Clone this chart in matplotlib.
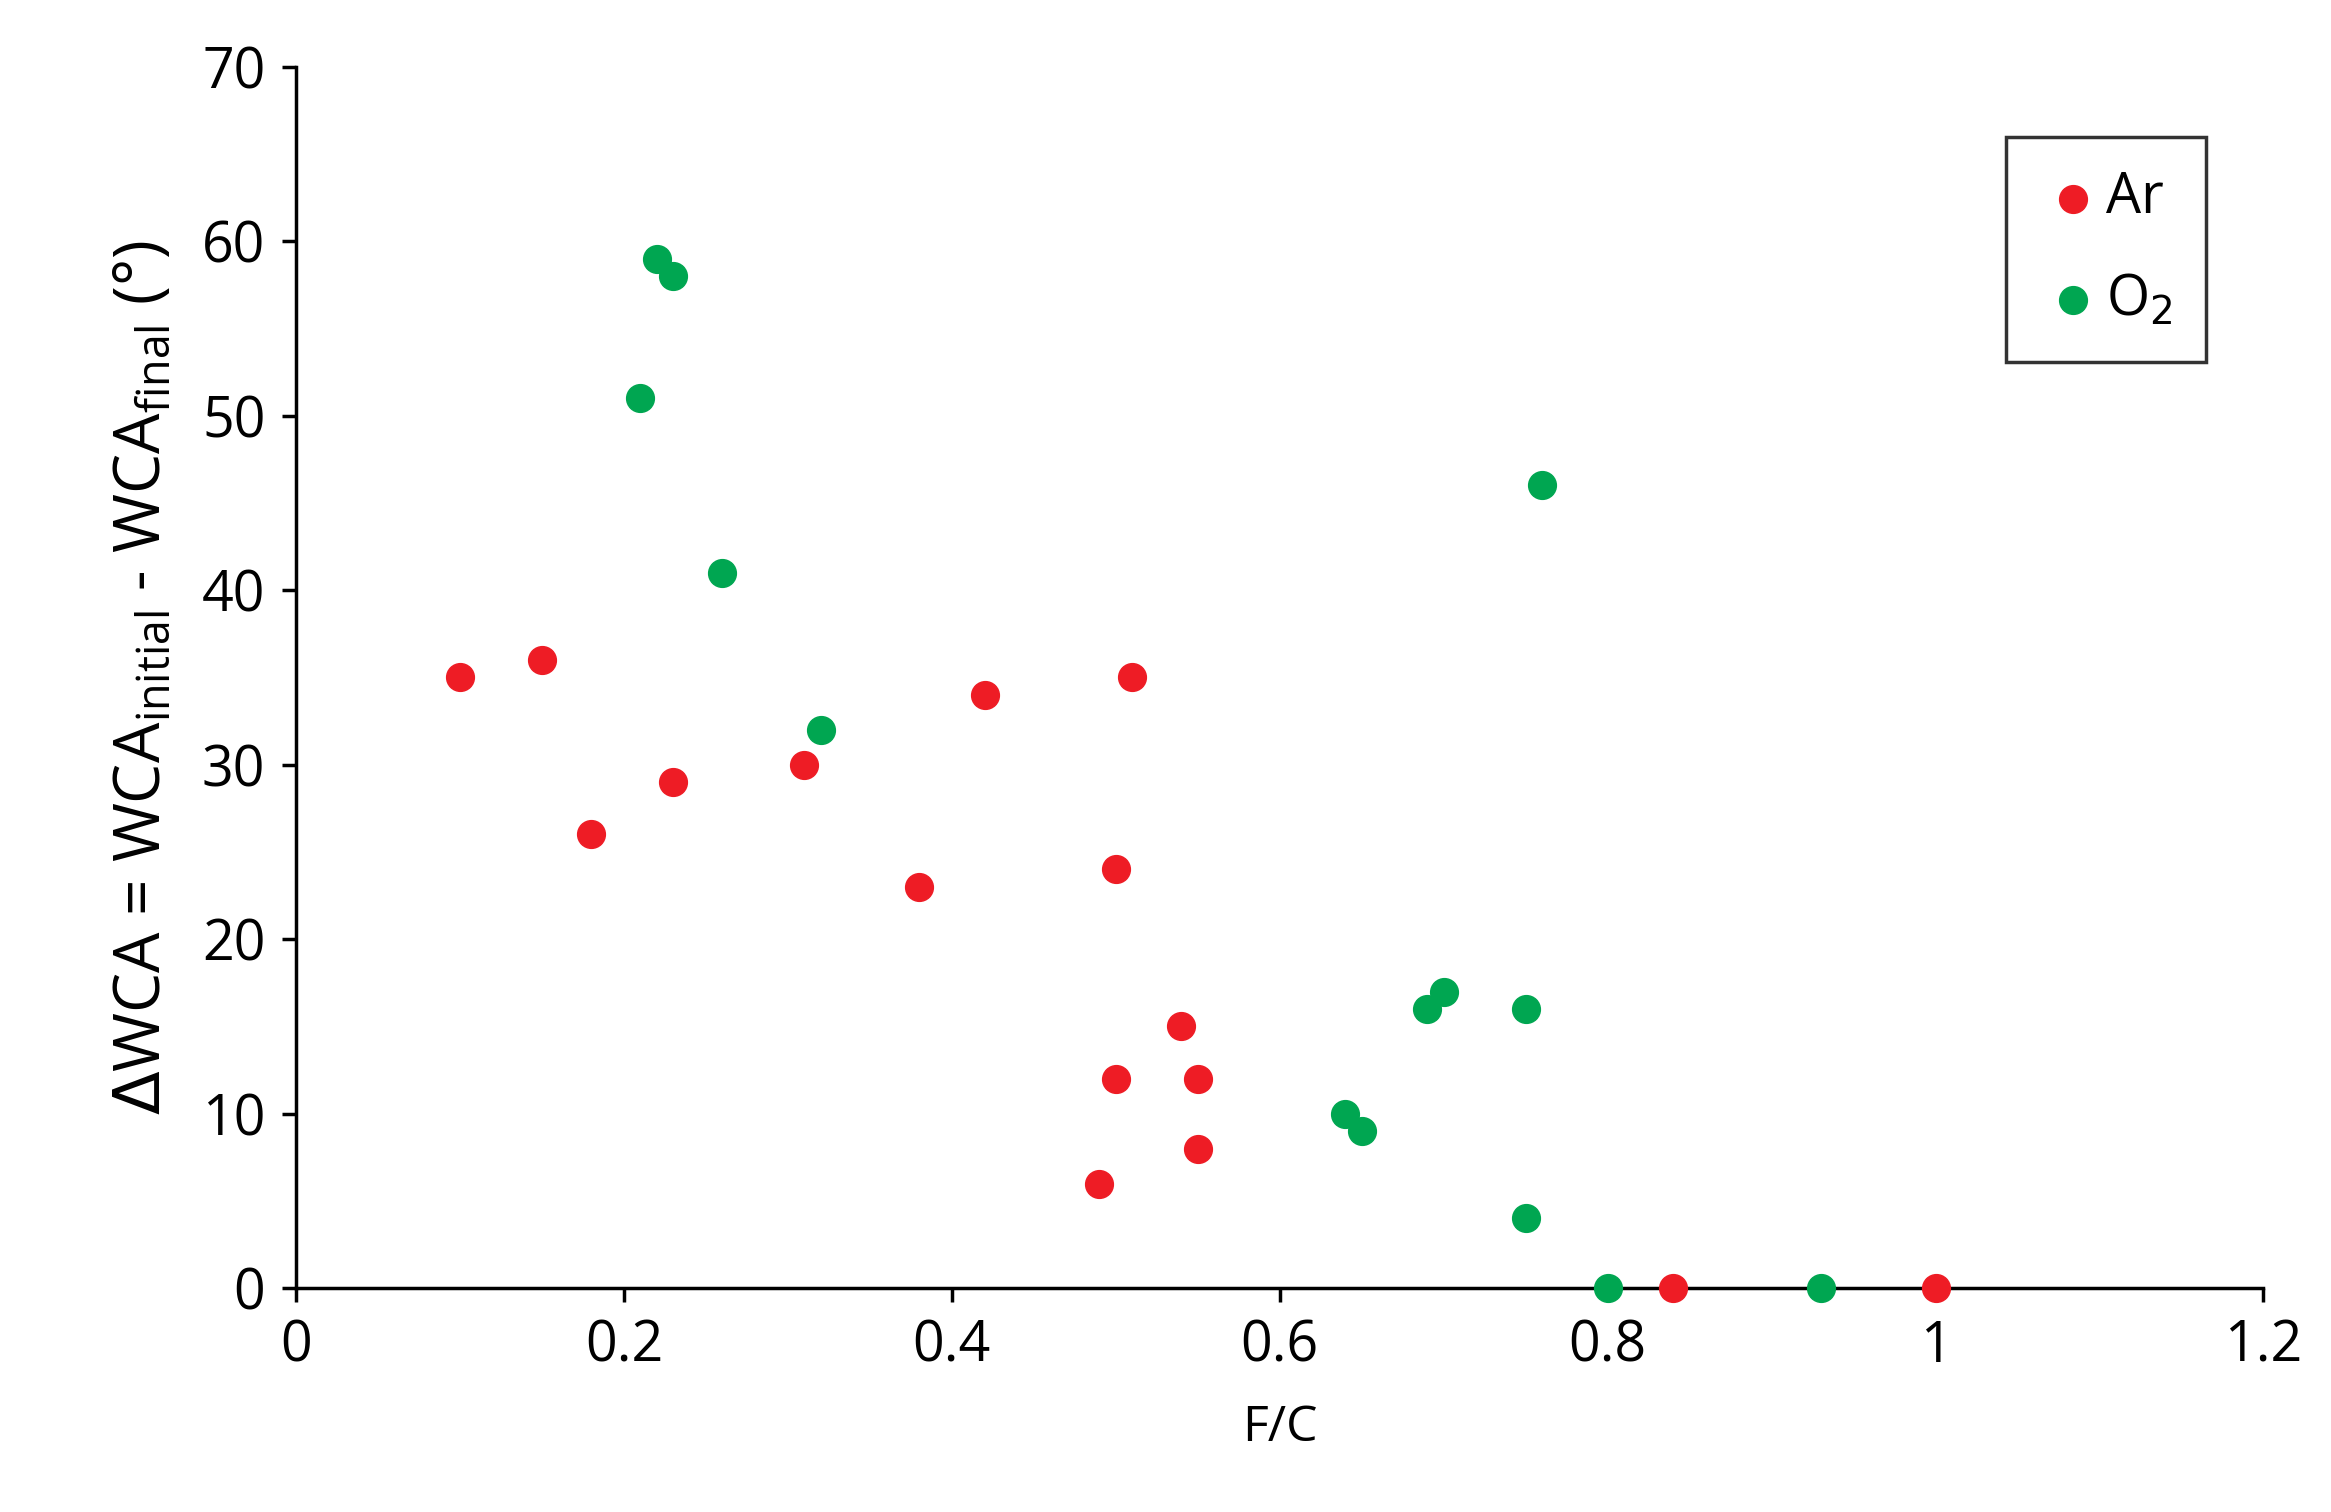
import matplotlib
matplotlib.use('Agg')
import matplotlib.pyplot as plt

plt.rcParams['font.family'] = ['Open Sans', 'DejaVu Sans']

ar_fc = [0.10, 0.15, 0.18, 0.23, 0.31, 0.38, 0.42, 0.50, 0.51, 0.54, 0.50, 0.55, 0.55, 0.49, 0.84, 1.00]
ar_dwca = [35, 36, 26, 29, 30, 23, 34, 24, 35, 15, 12, 12, 8, 6, 0, 0]
o2_fc = [0.21, 0.22, 0.23, 0.26, 0.32, 0.76, 0.69, 0.70, 0.75, 0.64, 0.65, 0.75, 0.80, 0.93]
o2_dwca = [51, 59, 58, 41, 32, 46, 16, 17, 16, 10, 9, 4, 0, 0]

fig = plt.figure(figsize=(23.31, 15.12), dpi=100)
ax = fig.add_axes([0.127, 0.148, 0.844, 0.808])

ax.scatter(ar_fc, ar_dwca, s=400, color='#EE1C25', label='Ar', zorder=3, clip_on=False)
ax.scatter(o2_fc, o2_dwca, s=400, color='#00A651', label='O$_2$', zorder=3, clip_on=False)

ax.set_xlim(0, 1.2)
ax.set_ylim(0, 70)
ax.set_xticks([0, 0.2, 0.4, 0.6, 0.8, 1.0, 1.2])
ax.set_xticklabels(['0', '0.2', '0.4', '0.6', '0.8', '1', '1.2'])
ax.set_yticks(range(0, 71, 10))
for s in ['top', 'right']:
    ax.spines[s].set_visible(False)
for s in ['left', 'bottom']:
    ax.spines[s].set_linewidth(2.5)
ax.tick_params(axis='both', labelsize=40, width=2.5, length=10, direction='out', pad=12)

ax.set_xlabel('F/C', fontsize=36, labelpad=20)
ax.set_ylabel(r'$\Delta$WCA = WCA$_{\mathregular{initial}}$ - WCA$_{\mathregular{final}}$ (°)', fontsize=46, labelpad=20)

leg = ax.legend(loc='upper right', bbox_to_anchor=(0.985, 0.965), fontsize=40, frameon=True,
                fancybox=False, edgecolor='black', handletextpad=0.0, borderpad=0.6,
                handlelength=1.2, labelspacing=0.8, markerscale=1.0)
leg.get_frame().set_linewidth(2.5)

fig.savefig('out.png', dpi=100, facecolor='white')
